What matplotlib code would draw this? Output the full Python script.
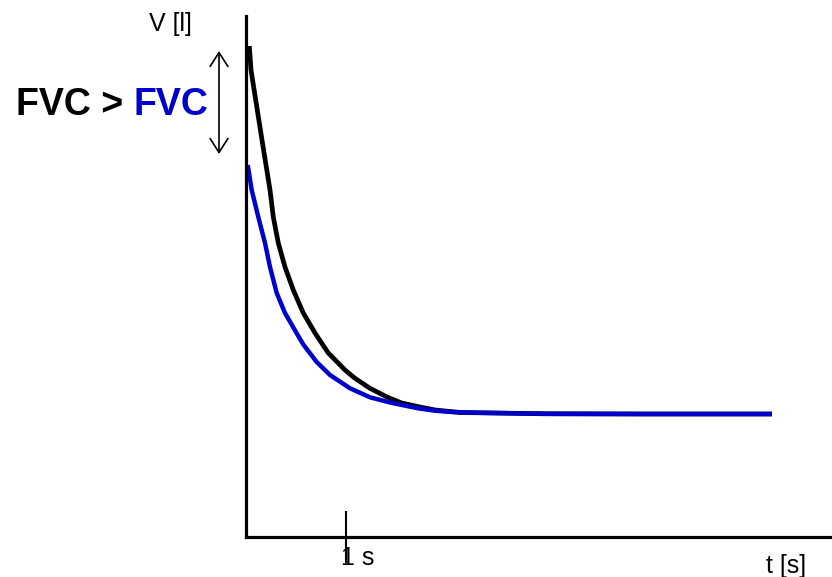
import matplotlib
matplotlib.use("Agg")
import matplotlib.pyplot as plt

# Data (time in s, volume in l)
t_black = [0.033, 0.05, 0.16, 0.24, 0.273, 0.323, 0.39, 0.473, 0.573, 0.69, 0.823, 0.99,
           1.09, 1.24, 1.41, 1.557, 1.723, 1.89, 2.14, 3.0, 4.0, 5.26]
v_black = [4.91, 4.67, 3.97, 3.47, 3.20, 2.94, 2.70, 2.47, 2.24, 2.04, 1.84, 1.67,
           1.587, 1.487, 1.40, 1.34, 1.303, 1.27, 1.245, 1.232, 1.23, 1.23]

t_blue = [0.017, 0.057, 0.123, 0.19, 0.24, 0.307, 0.39, 0.507, 0.573, 0.707, 0.84,
          1.04, 1.24, 1.44, 1.72, 1.89, 2.06, 2.29, 3.04, 4.0, 5.26]
v_blue = [3.72, 3.47, 3.20, 2.94, 2.70, 2.44, 2.24, 2.037, 1.925, 1.75, 1.62,
          1.487, 1.397, 1.345, 1.287, 1.263, 1.25, 1.243, 1.232, 1.23, 1.23]

xticks = [1]
xlabel = "t [s]"
ylabel = "V [l]"
tick_label = "1 s"

W, H = 832, 577
BLUE = "#0000CD"
FONT = ["Liberation Sans", "DejaVu Sans"]
plt.rcParams['font.family'] = FONT

fig = plt.figure(figsize=(W / 100, H / 100), dpi=100)
ax = fig.add_axes([246 / W, 40 / H, (W - 246) / W, 521 / H])
ax.set_xlim(0, 5.86)
ax.set_ylim(0, 5.21)

ax.plot(t_black, v_black, color="black", lw=3.4, solid_capstyle="butt", solid_joinstyle="round")
ax.plot(t_blue, v_blue, color=BLUE, lw=3.2, solid_capstyle="butt", solid_joinstyle="round")

for s in ["top", "right"]:
    ax.spines[s].set_visible(False)
for s in ["left", "bottom"]:
    ax.spines[s].set_linewidth(2.3)
    ax.spines[s].set_color("black")

ax.set_yticks([])
ax.set_xticks(xticks)
ax.set_xticklabels([""])
ax.tick_params(axis="x", direction="inout", length=38, width=1.5, color="black")

def fx(x):
    return x / W

def fy(y):
    return 1 - y / H

fig.text(fx(170.5), fy(31), ylabel, ha="center", va="baseline", fontsize=18)
fig.text(fx(766), fy(573), xlabel, ha="left", va="baseline", fontsize=18)
fig.text(fx(341), fy(565), tick_label, ha="left", va="baseline", fontsize=18)

fig.text(fx(16), fy(115), "FVC > ", ha="left", va="baseline", fontsize=27, fontweight="bold", color="black")
fig.text(fx(208.5), fy(115), "FVC", ha="right", va="baseline", fontsize=27, fontweight="bold", color=BLUE)

ax.annotate("", xy=(219, H - 51), xytext=(219, H - 154),
            xycoords="figure pixels", textcoords="figure pixels",
            arrowprops=dict(arrowstyle="<->,head_length=0.5,head_width=0.32",
                            color="black", lw=1.2, mutation_scale=20,
                            shrinkA=0, shrinkB=0),
            annotation_clip=False)

fig.savefig("out.png", dpi=100)
